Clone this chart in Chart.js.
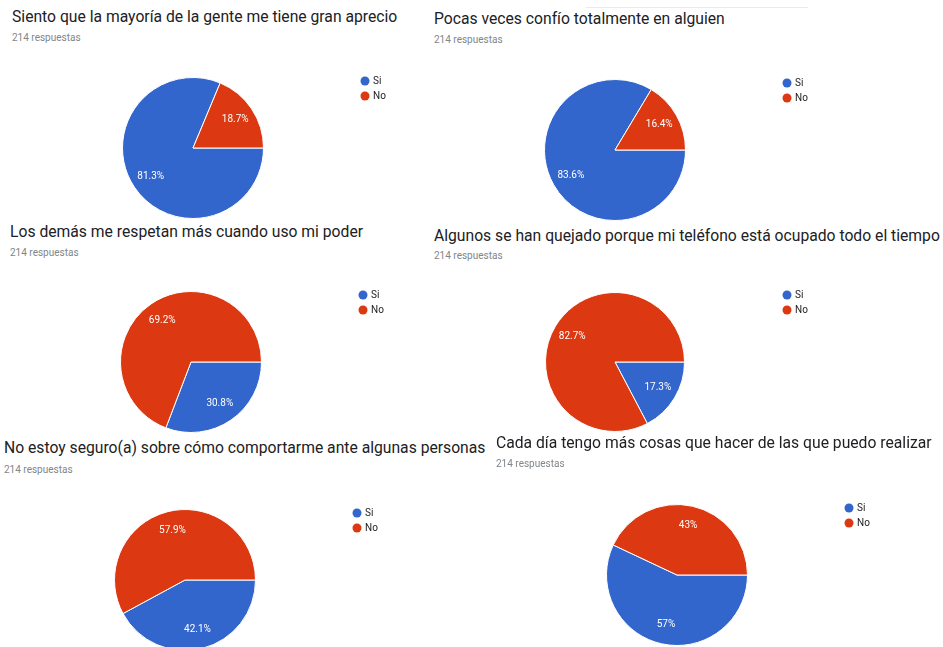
<!DOCTYPE html>
<html lang="es">
<head>
  <title>Encuesta</title>
  <meta charset="utf-8">
  <script src="https://cdn.jsdelivr.net/npm/chart.js@4.4.1/dist/chart.umd.min.js"></script>
  <style>
    body { margin: 0; width: 943px; height: 647px; overflow: hidden; background: #fff; position: relative; font-family: Roboto, Arial, sans-serif; }
    .title { position: absolute; font-size: 15.7px; line-height: 16px; color: #202124; white-space: nowrap; }
    .sub { position: absolute; font-size: 10px; line-height: 10px; color: #80868b; white-space: nowrap; }
    canvas { position: absolute; }
    .rule { position: absolute; height: 1px; background: #e8eaed; }
  </style>
</head>
<body>
<div class="rule" style="left:586px; top:7px; width:222px;"></div>
<script>
// datos de las 6 preguntas
var titles = [
  "Siento que la mayoría de la gente me tiene gran aprecio",
  "Pocas veces confío totalmente en alguien",
  "Los demás me respetan más cuando uso mi poder",
  "Algunos se han quejado porque mi teléfono está ocupado todo el tiempo",
  "No estoy seguro(a) sobre cómo comportarme ante algunas personas",
  "Cada día tengo más cosas que hacer de las que puedo realizar"
];
var responses = [214, 214, 214, 214, 214, 214];
var labels = ["Si", "No"];
var siValues = [81.3, 83.6, 30.8, 17.3, 42.1, 57];
var noValues = [18.7, 16.4, 69.2, 82.7, 57.9, 43];
var colors = ["#3366cc", "#dc3912"];

// posicion de cada panel (titulo, subtitulo, centro y radio del pastel)
var panels = [
  {tx: 12,  ty: 22,  sy: 41,  cx: 192.5, cy: 147.5, r: 71},
  {tx: 434, ty: 24,  sy: 43,  cx: 614.5, cy: 150,   r: 71},
  {tx: 10,  ty: 237, sy: 256, cx: 190.5, cy: 362,   r: 71},
  {tx: 434, ty: 241, sy: 259, cx: 614.5, cy: 362,   r: 70},
  {tx: 4,   ty: 453, sy: 473, cx: 185,   cy: 580,   r: 71},
  {tx: 496, ty: 448, sy: 467, cx: 676.5, cy: 575,   r: 71}
];

// etiquetas de porcentaje y leyenda
var pieText = {
  id: 'pieText',
  afterDatasetsDraw: function(chart) {
    var ctx = chart.ctx;
    var meta = chart.getDatasetMeta(0);
    var data = chart.data.datasets[0].data;
    ctx.save();
    ctx.font = "10px Roboto, Arial, sans-serif";
    ctx.textAlign = "center";
    ctx.textBaseline = "middle";
    ctx.fillStyle = "#fff";
    meta.data.forEach(function(arc, i) {
      var mid = (arc.startAngle + arc.endAngle) / 2;
      var d = arc.outerRadius * 0.72;
      ctx.fillText(data[i] + "%", arc.x + Math.cos(mid) * d, arc.y + Math.sin(mid) * d);
    });
    var a0 = meta.data[0];
    ctx.textAlign = "left";
    chart.data.labels.forEach(function(lab, i) {
      var lx = a0.x + 172, ly = a0.y - 67 + i * 15;
      ctx.fillStyle = colors[i];
      ctx.beginPath();
      ctx.arc(lx, ly, 4.5, 0, Math.PI * 2);
      ctx.fill();
      ctx.fillStyle = "#222";
      ctx.fillText(lab, lx + 8, ly + 0.5);
    });
    ctx.restore();
  }
};

titles.forEach(function(t, k) {
  var p = panels[k];
  var h = document.createElement('div');
  h.className = 'title';
  h.style.left = p.tx + 'px';
  h.style.top = (p.ty - 13.5) + 'px';
  h.textContent = t;
  document.body.appendChild(h);

  var s = document.createElement('div');
  s.className = 'sub';
  s.style.left = p.tx + 'px';
  s.style.top = (p.sy - 8.4) + 'px';
  s.textContent = responses[k] + ' respuestas';
  document.body.appendChild(s);

  var pad = 2;
  var w = 2 * p.r + 2 * pad + 240;
  var hgt = 2 * p.r + 2 * pad;
  var c = document.createElement('canvas');
  c.width = w; c.height = hgt;
  c.style.left = (p.cx - p.r - pad) + 'px';
  c.style.top = (p.cy - p.r - pad) + 'px';
  document.body.appendChild(c);

  new Chart(c.getContext('2d'), {
    type: 'pie',
    data: {
      labels: labels,
      datasets: [{
        data: [siValues[k], noValues[k]],
        backgroundColor: colors,
        borderColor: '#fff',
        borderWidth: 1
      }]
    },
    options: {
      responsive: false,
      animation: false,
      rotation: 90,
      layout: { padding: { left: pad, top: pad, bottom: pad, right: w - 2 * p.r - pad } },
      plugins: { legend: { display: false }, tooltip: { enabled: false } }
    },
    plugins: [pieText]
  });
});
</script>
</body>
</html>
